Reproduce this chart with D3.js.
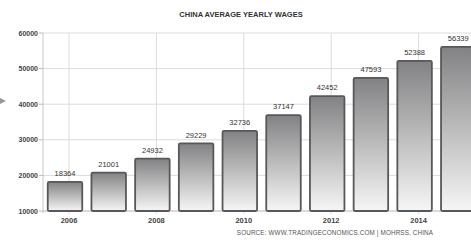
<!DOCTYPE html>
<html><head><meta charset="utf-8">
<script src="https://cdn.jsdelivr.net/npm/d3@7"></script>
<style>body{margin:0;background:#fff}svg{display:block}</style>
</head><body>
<script>
const years = ["2006","2007","2008","2009","2010","2011","2012","2013","2014","2015"];
const wages = [18364,21001,24932,29229,32736,37147,42452,47593,52388,56339];
const yTicks = [10000,20000,30000,40000,50000,60000];
const xTickLabels = ["2006","2008","2010","2012","2014"];
const title = "CHINA AVERAGE YEARLY WAGES";
const source = "SOURCE: WWW.TRADINGECONOMICS.COM  |  MOHRSS, CHINA";

(function(){
const W = 471, H = 246;
const svg = d3.select("body").append("svg").attr("width", W).attr("height", H);
const defs = svg.append("defs");
const grad = defs.append("linearGradient").attr("id","bg").attr("x1",0).attr("y1",0).attr("x2",0).attr("y2",1);
grad.append("stop").attr("offset","0%").attr("stop-color","#828284");
grad.append("stop").attr("offset","100%").attr("stop-color","#f6f6f6");

const pL = 43, pR = 471, pT = 33, pB = 211;
const y = d3.scaleLinear().domain([10000,60000]).range([pB, pT]);
const x = d3.scaleBand().domain(years).range([47 - 3.85, 47 - 3.85 + 43.7*10]).paddingInner(0.176).paddingOuter(0.088);

svg.append("g").selectAll("line").data(yTicks).join("line")
  .attr("x1", pL).attr("x2", pR).attr("y1", d=>y(d)).attr("y2", d=>y(d))
  .attr("stroke","#dcdcdc").attr("stroke-width",1);
const gx = d => x(d) + x.bandwidth()/2 + 4;
svg.append("g").selectAll("line").data(xTickLabels).join("line")
  .attr("x1", gx).attr("x2", gx).attr("y1", pT).attr("y2", pB + 3)
  .attr("stroke","#dcdcdc").attr("stroke-width",1);

svg.append("line").attr("x1",pL).attr("x2",pL).attr("y1",pT).attr("y2",pB+2).attr("stroke","#c8c8c8");
svg.append("line").attr("x1",pL).attr("x2",pR).attr("y1",pB).attr("y2",pB).attr("stroke","#c8c8c8");

svg.append("g").selectAll("text").data(yTicks).join("text")
  .attr("x", 38).attr("y", d=>y(d)+2.5).attr("text-anchor","end")
  .attr("font-family","Liberation Sans, Arial, sans-serif").attr("font-weight","bold")
  .attr("font-size",7).attr("fill","#444").text(d=>d);
svg.append("g").selectAll("line").data(yTicks).join("line")
  .attr("x1",39).attr("x2",pL).attr("y1",d=>y(d)).attr("y2",d=>y(d)).attr("stroke","#bbb");

svg.append("g").selectAll("rect").data(wages).join("rect")
  .attr("x",(d,i)=>x(years[i])+0.75).attr("y",d=>y(d)+0.75)
  .attr("width",x.bandwidth()-1.5).attr("height",d=>pB - y(d) - 0.75)
  .attr("rx",1.5)
  .attr("fill","url(#bg)").attr("stroke","#58585a").attr("stroke-width",1.8);

svg.append("g").selectAll("text").data(wages).join("text")
  .attr("x",(d,i)=>x(years[i])+x.bandwidth()/2).attr("y",d=>y(d)-5)
  .attr("text-anchor","middle").attr("font-family","Liberation Sans, Arial, sans-serif")
  .attr("font-size",7.5).attr("fill","#333").text(d=>d);

svg.append("g").selectAll("text").data(xTickLabels).join("text")
  .attr("x", gx).attr("y", 223).attr("text-anchor","middle")
  .attr("font-family","Liberation Sans, Arial, sans-serif").attr("font-weight","bold")
  .attr("font-size",7.5).attr("fill","#444").text(d=>d);

svg.append("text").attr("x",241).attr("y",17).attr("text-anchor","middle")
  .attr("font-family","Liberation Sans, Arial, sans-serif").attr("font-weight","bold")
  .attr("font-size",7.5).attr("fill","#333").text(title);

svg.append("text").attr("x",335).attr("y",235).attr("text-anchor","middle")
  .attr("font-family","Liberation Sans, Arial, sans-serif")
  .attr("font-size",6.3).attr("letter-spacing",0.15).attr("fill","#555").text(source);

svg.append("path").attr("d","M0,98 L6,101 L0,104 Z").attr("fill","#999");
})();
</script>
</body></html>
